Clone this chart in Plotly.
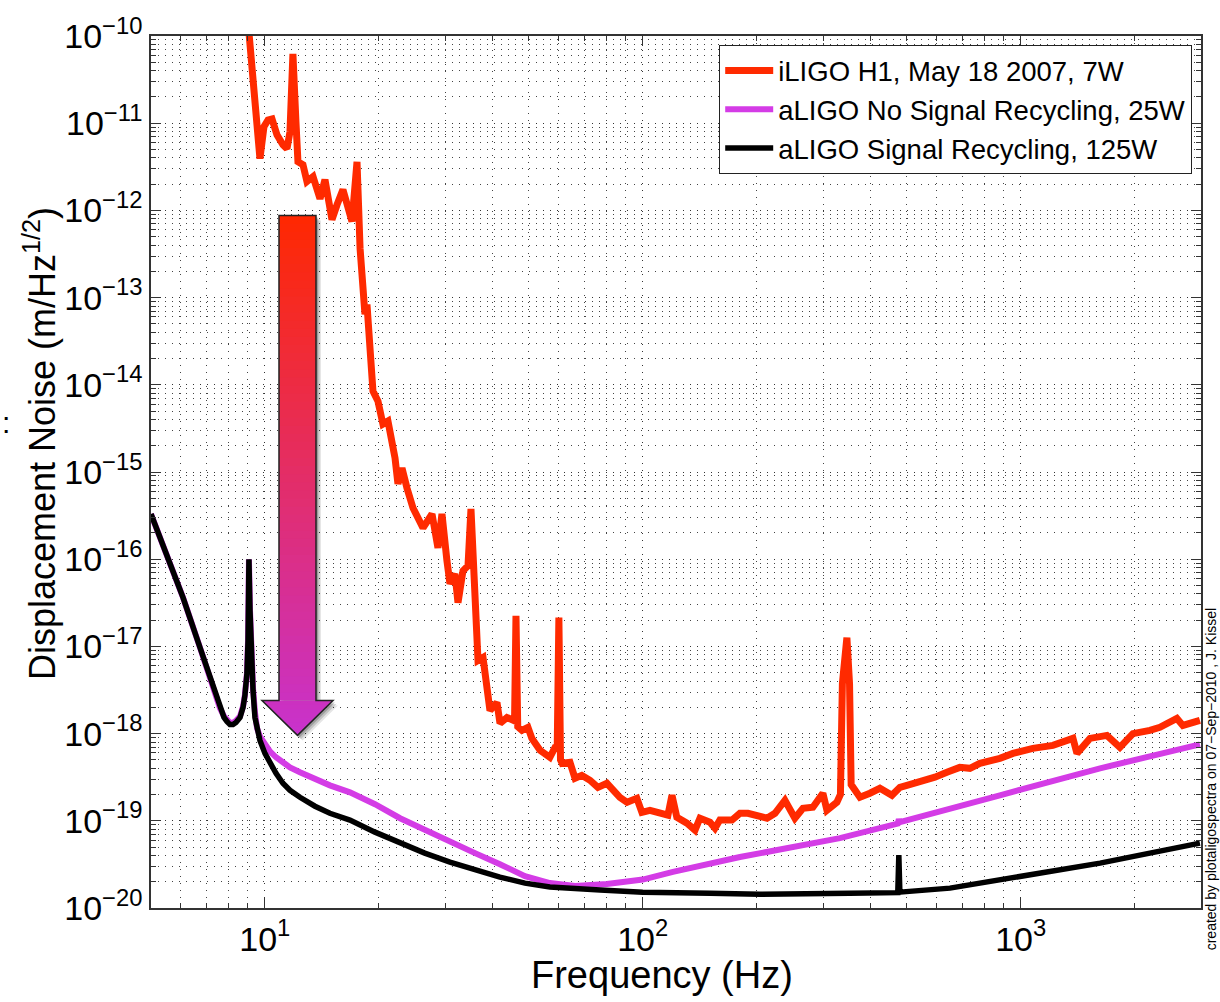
import plotly.graph_objects as go

# ---------------- data ----------------
red_freq = [9.03, 9.71, 9.95, 10.2, 10.45, 10.77, 11.17, 11.45, 11.66, 11.87, 12.09, 12.24, 12.62,
            12.93, 13.42, 14.0, 14.43, 15.06, 15.53, 16.10, 17.01, 17.54, 17.87, 18.19, 18.41, 18.64,
            18.98, 19.33, 19.93, 20.54, 21.18, 22.11, 22.51, 23.07, 23.78, 24.67, 26.22, 27.70, 28.72,
            29.43, 30.34, 30.90, 31.86, 32.45, 33.45, 34.49, 35.12, 35.99, 36.66, 37.79, 38.72, 39.43,
            41.15, 41.91, 43.73, 45.36, 45.8, 46.2, 46.7, 47.91, 49.70, 50.9, 53.5, 56.8, 58.6, 59.4,
            60.0, 60.6, 61.2, 64.2, 66.2, 69.0, 72.5, 76.1, 80.4, 87.0, 90.9, 96.5, 99.5, 104.5, 111.1,
            116.6, 119.5, 123.1, 130.9, 137.5, 141.7, 150.6, 155.3, 160.0, 172.2, 180.8, 189.8, 200.6,
            213.2, 223.8, 237.8, 252.7, 265.4, 282.0, 299.7, 307.2, 326.4, 333.5, 337.5, 346.9, 352.5,
            356.0, 359.8, 375.5, 399.1, 424.2, 456.4, 479.2, 500, 541, 593, 638, 690, 734, 780, 881,
            954, 1077, 1217, 1375, 1409, 1525, 1691, 1830, 1981, 2197, 2335, 2590, 2686, 2980]
red_asd = [1.45e-10, 3.92e-12, 9.1e-12, 1.09e-11, 1.12e-11, 7.36e-12, 5.66e-12, 5.1e-12, 7.98e-12,
           6.22e-11, 1.04e-11, 3.61e-12, 3.34e-12, 2.14e-12, 2.44e-12, 1.36e-12, 2.25e-12, 7.85e-13,
           1.16e-12, 1.73e-12, 7.45e-13, 3.61e-12, 3.66e-13, 9.06e-14, 6.43e-14, 8.35e-14, 2.42e-14,
           8.45e-15, 6.49e-15, 3.54e-15, 3.83e-15, 1.45e-15, 7.3e-16, 1.11e-15, 6.56e-16, 3.87e-16,
           2.29e-16, 3.30e-16, 1.35e-16, 3.3e-16, 9.6e-17, 5.24e-17, 6.81e-17, 3.17e-17, 7.36e-17,
           8.4e-17, 3.78e-16, 3.61e-17, 6.89e-18, 7.45e-18, 2.88e-18, 1.84e-18, 2.27e-18, 1.31e-18,
           1.53e-18, 1.42e-18, 1.4e-18, 2.25e-17, 1.2e-18, 1.09e-18, 1.18e-18, 8.81e-19, 6.43e-19,
           5.35e-19, 6.95e-19, 7.0e-19, 2.14e-17, 5.0e-19, 4.56e-19, 4.68e-19, 3.07e-19, 3.32e-19,
           2.92e-19, 2.42e-19, 2.69e-19, 1.86e-19, 1.63e-19, 1.81e-19, 1.25e-19, 1.32e-19, 1.22e-19,
           1.16e-19, 1.96e-19, 1.10e-19, 9.4e-20, 7.8e-20, 1.07e-19, 9.64e-20, 8.23e-20, 1.02e-19,
           1.02e-19, 1.22e-19, 1.22e-19, 1.16e-19, 1.07e-19, 1.22e-19, 1.72e-19, 1.07e-19, 1.39e-19,
           1.43e-19, 2.07e-19, 1.32e-19, 1.63e-19, 2.0e-19, 3.75e-18, 1.26e-17, 3.75e-18,
           2.6e-19, 2.42e-19, 1.86e-19, 2.07e-19, 2.36e-19, 1.96e-19, 2.42e-19, 2.55e-19, 2.77e-19,
           3.16e-19, 3.6e-19, 4.1e-19, 4.0e-19, 4.56e-19, 5.2e-19, 5.93e-19, 6.77e-19, 7.33e-19,
           8.81e-19, 5.93e-19, 8.81e-19, 9.53e-19, 6.95e-19, 1.0e-18, 1.09e-18, 1.18e-18, 1.49e-18,
           1.24e-18, 1.42e-18]

nosr_freq = [5.00, 6.08, 6.74, 7.48, 7.61, 7.80, 7.94, 8.09, 8.24, 8.39, 8.60, 8.76, 8.86, 8.97, 9.03,
             9.08, 9.14, 9.20, 9.25, 9.31, 9.42, 9.54, 9.71, 10.01, 10.32, 10.71, 11.17, 11.66, 12.39,
             13.58, 14.87, 16.8, 19.57, 22.8, 26.5, 30.9, 36.0, 41.9, 48.8, 56.8, 66.2, 80.4, 100,
             120.2, 180.8, 332.4, 473, 476, 479, 881, 1622, 2980]
nosr_asd = [3.30e-16, 3.61e-17, 9.68e-18, 2.40e-18, 1.96e-18, 1.58e-18, 1.42e-18, 1.33e-18, 1.33e-18,
            1.40e-18, 1.58e-18, 2.05e-18, 2.78e-18, 4.9e-18, 1.16e-17, 1.0e-16, 2.6e-17, 9.1e-18,
            5.9e-18, 3.3e-18, 1.75e-18, 1.15e-18, 9.29e-19, 7.33e-19, 6.25e-19, 5.35e-19, 4.68e-19,
            4.10e-19, 3.60e-19, 2.99e-19, 2.55e-19, 2.12e-19, 1.55e-19, 1.07e-19, 7.8e-20, 5.69e-20,
            4.26e-20, 3.18e-20, 2.32e-20, 1.93e-20, 1.79e-20, 1.88e-20, 2.12e-20, 2.6e-20, 3.84e-20,
            6.32e-20, 9.3e-20, 1.04e-19, 9.64e-20, 1.96e-19, 4.0e-19, 7.52e-19]

sr_freq = [5.00, 6.08, 6.74, 7.48, 7.61, 7.80, 7.94, 8.09, 8.24, 8.39, 8.60, 8.76, 8.86, 8.97, 9.03,
           9.08, 9.14, 9.20, 9.25, 9.31, 9.42, 9.54, 9.71, 10.01, 10.32, 10.71, 11.17, 11.66, 12.39,
           13.58, 14.87, 16.8, 19.57, 22.8, 26.5, 30.9, 36.0, 41.9, 48.8, 56.8, 77.1, 100, 150.6, 204,
           353, 473, 476, 479, 650, 881, 1195, 1622, 2197, 2980]
sr_asd = [3.30e-16, 3.61e-17, 9.68e-18, 2.40e-18, 1.94e-18, 1.53e-18, 1.38e-18, 1.27e-18, 1.27e-18,
          1.34e-18, 1.53e-18, 2.0e-18, 2.74e-18, 4.89e-18, 1.16e-17, 1.0e-16, 2.57e-17, 8.95e-18,
          5.71e-18, 3.12e-18, 1.53e-18, 1.09e-18, 8.36e-19, 5.93e-19, 4.56e-19, 3.51e-19, 2.69e-19,
          2.24e-19, 1.86e-19, 1.47e-19, 1.22e-19, 1.02e-19, 7.41e-20, 5.55e-20, 4.26e-20, 3.36e-20,
          2.72e-20, 2.26e-20, 1.93e-20, 1.74e-20, 1.61e-20, 1.52e-20, 1.48e-20, 1.44e-20, 1.48e-20,
          1.50e-20, 4.04e-20, 1.52e-20, 1.69e-20, 2.09e-20, 2.58e-20, 3.27e-20, 4.26e-20, 5.55e-20]

series_names = ["iLIGO H1, May 18 2007, 7W",
                "aLIGO No Signal Recycling, 25W",
                "aLIGO Signal Recycling, 125W"]

x_tickvals = [10, 100, 1000]
x_ticktext = ["10<sup>1</sup>", "10<sup>2</sup>", "10<sup>3</sup>"]
y_exponents = list(range(-20, -9))
y_tickvals = [10.0 ** e for e in y_exponents]
y_ticktext = ["10<sup>\u2212%d</sup>" % (-e) for e in y_exponents]

# ---------------- figure ----------------
W, H = 1220, 1002
L, R, T, B = 151, 19, 34, 94
PW, PH = W - L - R, H - T - B
FONT = "Liberation Sans, Arial, Helvetica, sans-serif"

fig = go.Figure()
fig.add_trace(go.Scatter(x=red_freq, y=red_asd, mode="lines", name=series_names[0],
                         line=dict(color="#FF2A00", width=7)))
fig.add_trace(go.Scatter(x=nosr_freq, y=nosr_asd, mode="lines", name=series_names[1],
                         line=dict(color="#D43CE6", width=6)))
fig.add_trace(go.Scatter(x=sr_freq, y=sr_asd, mode="lines", name=series_names[2],
                         line=dict(color="#000000", width=5.5)))


def px(x):
    return (x - L) / PW


def py(y):
    return (H - B - y) / PH


def path(points):
    return "M " + " L ".join("%.5f %.5f" % (px(a), py(b)) for a, b in points) + " Z"


# decorative gradient arrow (pixel geometry)
sx0, sx1, top, head_y, hx0, hx1, tip_y = 279, 316, 214, 700, 262, 333, 735
cx = (hx0 + hx1) / 2.0
c_top = (255, 40, 0)
c_bot = (200, 50, 205)


def col(y):
    t = (y - top) / (tip_y - top)
    return "rgb(%d,%d,%d)" % tuple(int(round(a + (b - a) * t)) for a, b in zip(c_top, c_bot))


def half_w(y):
    return (hx1 - hx0) / 2.0 * (tip_y - y) / (tip_y - head_y)


outline = [(sx0, top), (sx1, top), (sx1, head_y), (hx1, head_y), (cx, tip_y), (hx0, head_y), (sx0, head_y)]
shapes = []
for off, op in [(5, 0.10), (3.5, 0.15), (2, 0.2)]:
    shapes.append(dict(type="path", xref="paper", yref="paper",
                       path=path([(a + off, b + off) for a, b in outline]),
                       fillcolor="rgba(0,0,0,%g)" % op, line=dict(width=0)))
n1 = 60
for i in range(n1):
    ya = top + (head_y - top) * i / n1
    yb = min(top + (head_y - top) * (i + 1) / n1 + 1.0, head_y)
    shapes.append(dict(type="path", xref="paper", yref="paper",
                       path=path([(sx0, ya), (sx1, ya), (sx1, yb), (sx0, yb)]),
                       fillcolor=col((ya + yb) / 2), line=dict(width=0)))
n2 = 8
for i in range(n2):
    ya = head_y + (tip_y - head_y) * i / n2
    yb = min(head_y + (tip_y - head_y) * (i + 1) / n2 + 0.8, tip_y)
    ha, hb = half_w(ya), half_w(yb)
    shapes.append(dict(type="path", xref="paper", yref="paper",
                       path=path([(cx - ha, ya), (cx + ha, ya), (cx + hb, yb), (cx - hb, yb)]),
                       fillcolor=col((ya + yb) / 2), line=dict(width=0)))
shapes.append(dict(type="path", xref="paper", yref="paper", path=path(outline),
                   fillcolor="rgba(0,0,0,0)", line=dict(color="#222222", width=1.5)))

grid_dash = "1px,6px"
axis_common = dict(
    type="log", showline=True, linecolor="#333333", linewidth=1.5, mirror="ticks",
    ticks="inside", ticklen=10, tickwidth=1.2, tickcolor="#333333",
    showgrid=True, gridcolor="#333333", gridwidth=1, griddash=grid_dash,
    zeroline=False,
    tickfont=dict(family=FONT, size=34, color="black"),
    minor=dict(dtick="D1", ticks="inside", ticklen=5, tickcolor="#333333", showgrid=True,
               gridcolor="#444444", gridwidth=1, griddash=grid_dash),
)

fig.update_layout(
    width=W, height=H, autosize=False,
    margin=dict(l=L, r=R, t=T, b=B, pad=0),
    paper_bgcolor="white", plot_bgcolor="white",
    font=dict(family=FONT, color="black"),
    xaxis=dict(axis_common, range=[0.69897, 3.4771], tickmode="array", tickvals=x_tickvals,
               ticktext=x_ticktext),
    yaxis=dict(axis_common, range=[-20, -10], tickmode="array", tickvals=y_tickvals,
               ticktext=y_ticktext),
    legend=dict(x=px(1192), y=py(43), xanchor="right", yanchor="top",
                bgcolor="white", bordercolor="#222222", borderwidth=1.2,
                font=dict(family=FONT, size=27.5, color="black"), tracegroupgap=0,
                itemwidth=48),
    shapes=shapes,
    showlegend=True,
)

# axis titles as positioned annotations
fig.add_annotation(text="Frequency (Hz)", xref="paper", yref="paper", x=px(662), y=py(975),
                   showarrow=False, xanchor="center", yanchor="middle",
                   font=dict(family=FONT, size=38, color="black"))
fig.add_annotation(text="Displacement Noise (m/Hz<sup>1/2</sup>)", xref="paper", yref="paper",
                   x=px(40), y=py(443), textangle=-90, showarrow=False,
                   xanchor="center", yanchor="middle",
                   font=dict(family=FONT, size=36, color="black"))
fig.add_annotation(text="created by plotaligospectra on 07\u2212Sep\u22122010 , J. Kissel",
                   xref="paper", yref="paper", x=px(1211), y=py(779), textangle=-90,
                   showarrow=False, xanchor="center", yanchor="middle",
                   font=dict(family=FONT, size=14, color="black"))
fig.add_annotation(text=":", xref="paper", yref="paper", x=px(0), y=py(421),
                   showarrow=False, xanchor="left", yanchor="middle",
                   font=dict(family=FONT, size=30, color="black"))

fig.write_html("out.html", config={"displayModeBar": False},
               post_script="document.body.style.margin='0px';")
